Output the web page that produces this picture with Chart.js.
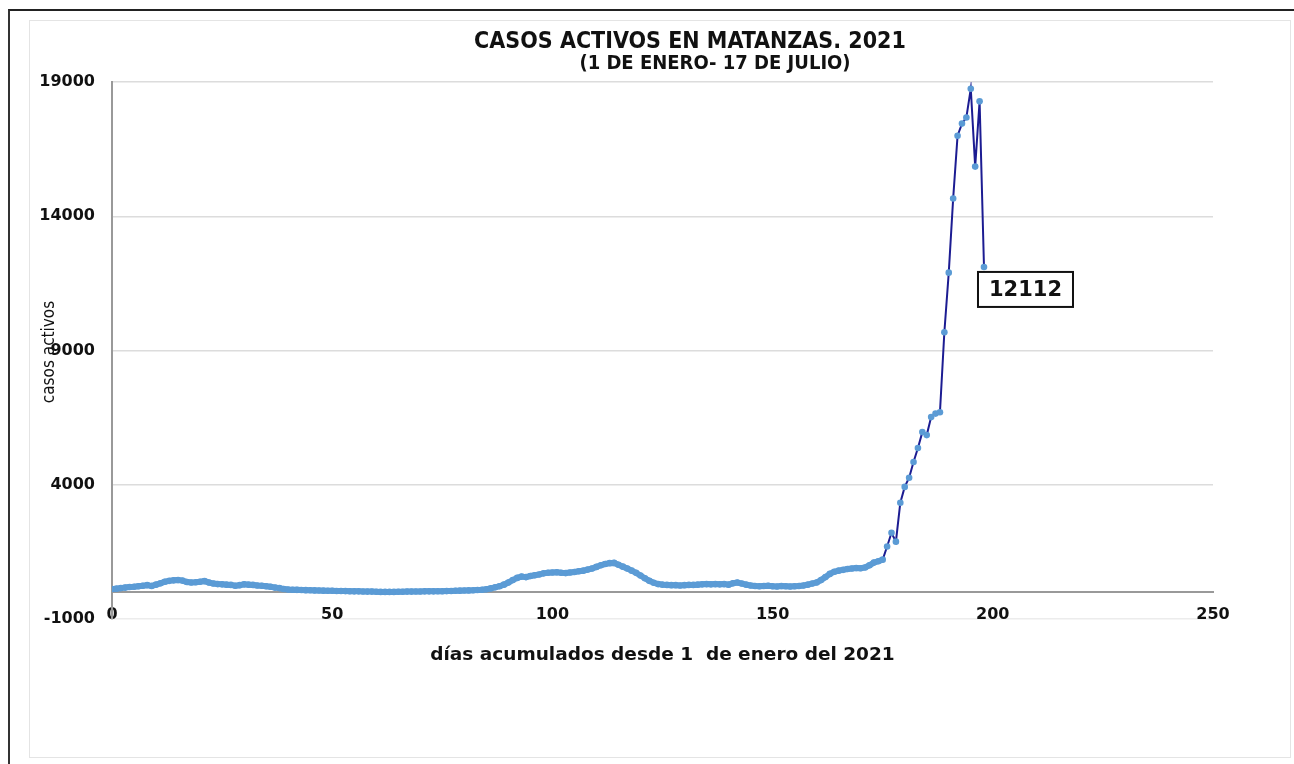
<!DOCTYPE html>
<html>
<head>
<meta charset="utf-8">
<title>Casos activos en Matanzas 2021</title>
<script src="https://cdn.jsdelivr.net/npm/chart.js@4.4.1/dist/chart.umd.min.js"></script>
<style>
    html, body { margin: 0; padding: 0; background: #fff; }
    #frame {
        position: absolute; left: 8px; top: 9px; width: 1286px; height: 755px;
        border-top: 2px solid #222; border-left: 2px solid #333; box-sizing: border-box;
    }
    #panel {
        position: absolute; left: 29px; top: 20px; width: 1262px; height: 738px;
        border: 1px solid #e4e4e4; box-sizing: border-box;
    }
    #wrap { position: absolute; left: 0; top: 0; width: 1294px; height: 764px; }
</style>
</head>
<body>
<div id="frame"></div>
<div id="panel"></div>
<div id="wrap"><canvas id="casosChart"></canvas></div>
<script>
// dia 0 = 1 de enero, ultimo dia = 17 de julio
const firstDay = 0;
// desde este dia la linea se ve oscura (subida fuerte)
const darkFromDay = 175;

const activeCases = [
    120, 130, 150, 170, 190, 200, 220, 240, 260, 230,
    280, 330, 390, 420, 440, 450, 430, 380, 360, 370,
    390, 410, 360, 320, 300, 290, 280, 270, 240, 260,
    290, 280, 270, 250, 240, 220, 200, 170, 150, 120,
    100, 90, 85, 80, 75, 70, 65, 60, 55, 50,
    50, 45, 45, 40, 35, 30, 30, 25, 20, 20,
    15, 10, 10, 10, 10, 15, 15, 20, 20, 25,
    25, 30, 30, 30, 35, 35, 40, 45, 50, 55,
    60, 65, 70, 80, 90, 110, 140, 180, 220, 280,
    360, 450, 530, 580, 560, 600, 630, 660, 700, 720,
    730, 740, 720, 710, 730, 750, 780, 800, 840, 880,
    940, 1000, 1050, 1080, 1090, 1020, 950, 880, 800, 720,
    620, 520, 420, 350, 300, 280, 270, 260, 260, 250,
    260, 270, 270, 280, 290, 300, 290, 300, 290, 300,
    280, 330, 360, 320, 280, 250, 230, 220, 230, 240,
    220, 210, 230, 220, 210, 220, 230, 250, 280, 320,
    360, 450, 560, 680, 760, 800, 830, 860, 880, 900,
    890, 920, 1000, 1100, 1150, 1210, 1700, 2210, 1880, 3330,
    3920, 4260, 4850, 5370, 5960, 5850, 6520, 6650, 6700, 9680,
    11900, 14660, 17000, 17450, 17680, 18750, 15850, 18280, 12112
];

const yTicks = [-1000, 4000, 9000, 14000, 19000];
const xTicks = [0, 50, 100, 150, 200, 250];

const titleLines = ['CASOS ACTIVOS EN MATANZAS. 2021', '(1 DE ENERO- 17 DE JULIO)'];
const yTitle = 'casos activos';
const xTitle = 'días acumulados desde 1  de enero del 2021';

const points = activeCases.map((v, i) => ({ x: firstDay + i, y: v }));

const narrow = '"Liberation Sans Narrow", "DejaVu Sans Condensed", sans-serif';
const tickFont = { family: '"DejaVu Sans", sans-serif', size: 16, weight: 'bold' };
const lightBlue = '#5b9bd5';
const navy = '#1c1c92';

// titulo y etiqueta del eje y dibujados a mano (como en el grafico de Excel)
const textPlugin = {
    id: 'textPlugin',
    afterDraw(chart) {
        const ctx = chart.ctx;
        ctx.save();
        ctx.fillStyle = '#111';
        ctx.textAlign = 'center';
        ctx.textBaseline = 'middle';
        ctx.font = 'bold 23px ' + narrow;
        ctx.fillText(titleLines[0], 690, 42);
        ctx.font = 'bold 20px ' + narrow;
        ctx.fillText(titleLines[1], 715, 64);

        ctx.translate(50, 352);
        ctx.rotate(-Math.PI / 2);
        ctx.font = '17px ' + narrow;
        ctx.fillText(yTitle, 0, 0);
        ctx.restore();
    }
};

// etiqueta del ultimo valor
const lastLabelPlugin = {
    id: 'lastLabel',
    afterDatasetsDraw(chart) {
        const meta = chart.getDatasetMeta(0);
        const last = meta.data[meta.data.length - 1];
        const value = activeCases[activeCases.length - 1];
        const ctx = chart.ctx;
        const bx = last.x - 6, by = last.y + 5, bw = 95, bh = 35;
        ctx.save();
        ctx.fillStyle = '#fff';
        ctx.fillRect(bx, by, bw, bh);
        ctx.strokeStyle = '#111';
        ctx.lineWidth = 2;
        ctx.strokeRect(bx, by, bw, bh);
        ctx.fillStyle = '#111';
        ctx.font = 'bold 21px "DejaVu Sans", sans-serif';
        ctx.textAlign = 'center';
        ctx.textBaseline = 'middle';
        ctx.fillText(String(value), bx + bw / 2, by + bh / 2 + 1);
        ctx.restore();
    }
};

const isDark = (c) => c.p0.parsed.x >= darkFromDay;

new Chart(document.getElementById('casosChart'), {
    type: 'line',
    data: {
        datasets: [{
            label: 'casos activos',
            data: points,
            borderColor: navy,
            borderWidth: 2,
            segment: {
                borderColor: (c) => isDark(c) ? navy : lightBlue,
                borderWidth: (c) => isDark(c) ? 2 : 6
            },
            pointRadius: 3.3,
            pointBorderWidth: 0,
            pointBackgroundColor: lightBlue,
            pointBorderColor: lightBlue,
            tension: 0
        }]
    },
    options: {
        responsive: true,
        maintainAspectRatio: false,
        animation: false,
        layout: { padding: { left: 32, top: 82, right: 81, bottom: 145 } },
        plugins: {
            legend: { display: false },
            title: { display: false },
            tooltip: { enabled: false }
        },
        scales: {
            x: {
                type: 'linear',
                position: { y: 0 },
                min: 0,
                max: 250,
                afterBuildTicks: (scale) => { scale.ticks = xTicks.map(v => ({ value: v })); },
                grid: { display: false, drawTicks: false, tickLength: 0 },
                border: { display: true, color: '#999', width: 2 },
                ticks: {
                    padding: 13,
                    color: '#111',
                    maxRotation: 0,
                    callback: (v) => String(v),
                    font: tickFont
                },
                title: {
                    display: true,
                    text: xTitle,
                    color: '#111',
                    padding: { top: 7, bottom: 0 },
                    font: { family: '"DejaVu Sans", sans-serif', size: 18.5, weight: 'bold' }
                }
            },
            y: {
                min: -1000,
                max: 19000,
                afterBuildTicks: (scale) => { scale.ticks = yTicks.map(v => ({ value: v })); },
                afterFit: (scale) => { scale.width = 80; },
                grid: {
                    color: (c) => c.tick && c.tick.value === -1000 ? '#ececec' : '#dcdcdc',
                    lineWidth: 1.5,
                    drawTicks: false,
                    tickLength: 0
                },
                border: { display: true, color: '#999', width: 2 },
                ticks: {
                    padding: 17,
                    color: '#111',
                    callback: (v) => String(v),
                    font: tickFont
                }
            }
        }
    },
    plugins: [textPlugin, lastLabelPlugin]
});
</script>
</body>
</html>
